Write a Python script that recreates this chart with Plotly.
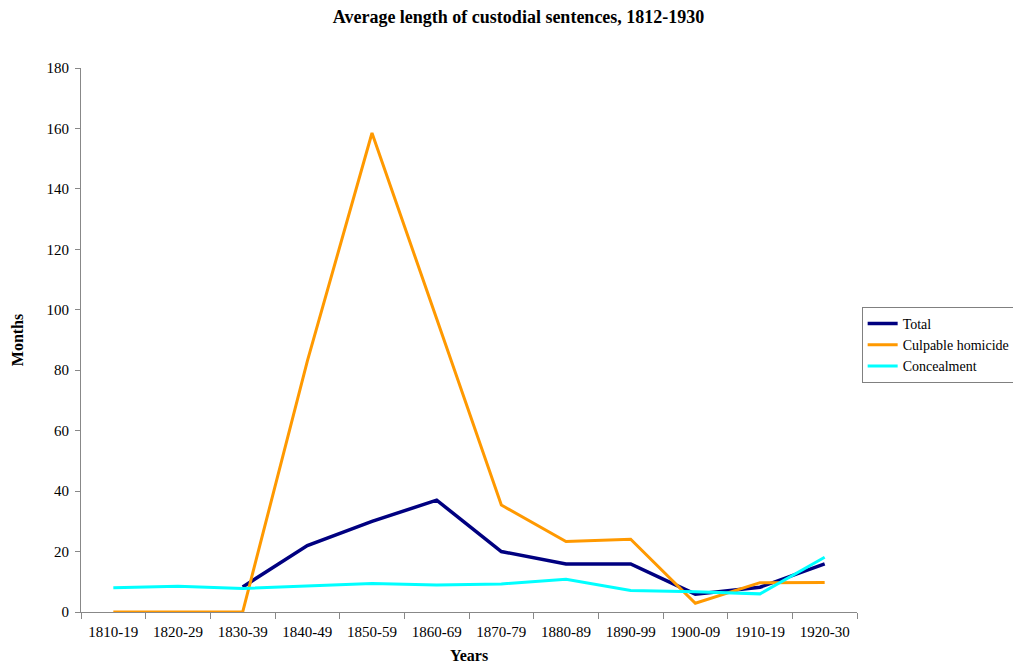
import plotly.graph_objects as go

# --- data
decades = ['1810-19', '1820-29', '1830-39', '1840-49', '1850-59', '1860-69',
           '1870-79', '1880-89', '1890-99', '1900-09', '1910-19', '1920-30']
total = [None, None, 8.3, 22, 30, 37, 20, 15.9, 15.9, 5.9, 8.2, 15.9]
culpable_homicide = [0, 0, 0, 83, 158.5, 97, 35.4, 23.3, 24.1, 2.9, 9.7, 9.8]
concealment = [8, 8.5, 7.8, 8.6, 9.4, 8.9, 9.3, 10.8, 7.1, 6.7, 6, 18.1]

serif = "Times New Roman, Liberation Serif, serif"

fig = go.Figure()
fig.add_trace(go.Scatter(x=decades, y=total, mode='lines', name='Total',
                         line=dict(color='#000080', width=3.5)))
fig.add_trace(go.Scatter(x=decades, y=culpable_homicide, mode='lines',
                         name='Culpable homicide',
                         line=dict(color='#FF9900', width=3)))
fig.add_trace(go.Scatter(x=decades, y=concealment, mode='lines',
                         name='Concealment',
                         line=dict(color='#00FFFF', width=3)))

# page body adds an 8px offset, so the figure is sized to fit the window
fig.update_layout(
    width=1013, height=658,
    paper_bgcolor='white', plot_bgcolor='white',
    margin=dict(l=73, r=164, t=60, b=54, autoexpand=False),
    font=dict(family=serif, size=15, color='black'),
    title=dict(text='<b>Average length of custodial sentences, 1812-1930</b>',
               x=0.504, xref='container', xanchor='center',
               y=1 - 9 / 658, yanchor='middle',
               font=dict(size=18)),
    legend=dict(x=1.006, y=0.5607, xanchor='left', yanchor='top',
                bordercolor='#808080', borderwidth=1, bgcolor='white',
                font=dict(size=14), tracegroupgap=0, itemwidth=30),
    showlegend=True,
)

fig.update_xaxes(type='category', range=[-0.5, 11.5], tickson='boundaries',
                 ticks='outside', ticklen=6, tickcolor='#888888',
                 showline=True, linecolor='#888888', linewidth=1,
                 showgrid=False, zeroline=False, tickfont=dict(size=15),
                 ticklabelstandoff=6,
                 title=dict(text='<b>Years</b>', standoff=10,
                            font=dict(size=16)))
fig.update_yaxes(range=[0, 180], dtick=20, ticks='outside', ticklen=5,
                 tickcolor='#888888', showline=True, linecolor='#888888',
                 linewidth=1, showgrid=False, zeroline=False,
                 tickfont=dict(size=15), ticklabelstandoff=3,
                 title=dict(text='<b>Months</b>', standoff=18,
                            font=dict(size=16)))

fig.write_html("out.html")
